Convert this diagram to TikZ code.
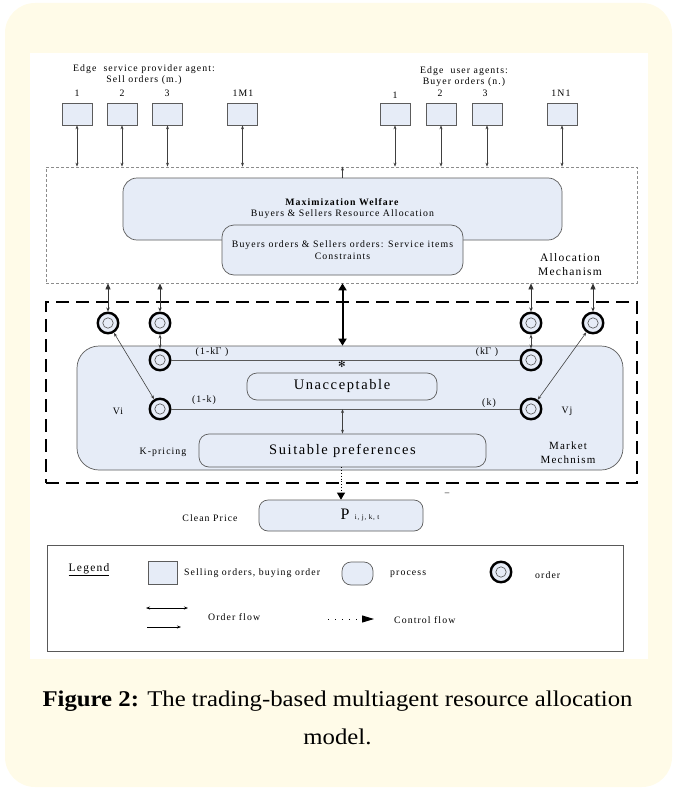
\documentclass[tikz,border=0pt]{standalone}
\usepackage{fontspec}
\setmainfont{Liberation Serif}
\newfontfamily\dfont[LetterSpace=11]{Liberation Serif}
\newfontfamily\symfont{DejaVu Sans}
\usetikzlibrary{arrows.meta}
\definecolor{cream}{HTML}{FFFBE8}
\definecolor{boxfill}{HTML}{E6ECF7}
\definecolor{boxline}{HTML}{5C5C5C}
\begin{document}
\begin{tikzpicture}[x=1pt,y=-1pt,
  dtext/.style={font=\dfont\fontsize{9.8}{11}\selectfont, inner sep=0pt, align=center},
  sq/.style={draw=boxline, fill=boxfill, minimum width=30pt, minimum height=22pt, inner sep=0pt, line width=0.7pt},
  proc/.style={draw=boxline, fill=boxfill, inner sep=0pt, line width=0.7pt, align=center},
  ord/.style={circle, draw=black, line width=2.4pt, fill=boxfill, minimum size=20.5pt, inner sep=0pt,
     path picture={\draw[line width=0.6pt, draw=black!70] (path picture bounding box.center) circle (5.2pt);}},
  oflow/.style={draw=black!75, line width=0.6pt, {Stealth[length=4pt,width=3pt]}-{Stealth[length=4pt,width=3pt]}},
  oarrow/.style={draw=black!75, line width=0.6pt, -{Stealth[length=4pt,width=3pt]}},
  bflow/.style={draw=black!80, line width=0.7pt, {Triangle[length=6pt,width=5pt]}-{Stealth[length=4pt,width=3.5pt]}},
  thickflow/.style={draw=black, line width=2pt, {Triangle[length=7pt,width=8pt]}-{Triangle[length=7pt,width=8pt]}},
  plainline/.style={draw=black!65, line width=0.7pt},
  ctrl/.style={draw=black, line width=0.8pt, dotted, -{Triangle[length=7pt,width=8pt]}},
]
\useasboundingbox (0,0) rectangle (675,789);
% card
\fill[cream, rounded corners=30pt] (5,3) rectangle (672,787);
\fill[white] (30,53) rectangle (648,659);

% header labels
\node[dtext] (sellhead) at (144,75) {Edge \ service provider agent:\\Sell orders (m.)};
\node[dtext] (buyhead) at (464,77) {Edge \ user agents:\\Buyer orders (n.)};
\node[dtext] (ls1) at (77,93) {1};
\node[dtext] (ls2) at (122,93) {2};
\node[dtext] (ls3) at (167,93) {3};
\node[dtext] (ls4) at (243,93) {1M1};
\node[dtext] (lb1) at (395,95) {1};
\node[dtext] (lb2) at (440,93) {2};
\node[dtext] (lb3) at (485,93) {3};
\node[dtext] (lb4) at (561,93) {1N1};

% order boxes
\node[sq] (s1) at (77,114) {};
\node[sq] (s2) at (122,114) {};
\node[sq] (s3) at (167.5,114) {};
\node[sq] (s4) at (242.5,114) {};
\node[sq] (b1) at (395,114) {};
\node[sq] (b2) at (441,114) {};
\node[sq] (b3) at (487,114) {};
\node[sq] (b4) at (562,114) {};

% allocation mechanism
\node[draw=black!45, line width=0.7pt, dash pattern=on 3pt off 2pt, minimum width=591pt, minimum height=116pt, inner sep=0pt] (alloc) at (341.5,225) {};
\foreach \n in {s1,s2,s3,s4,b1,b2,b3,b4}
  \draw[oflow] (\n.south) -- (\n.south |- alloc.north);

\node[proc, rounded corners=14pt, minimum width=439pt, minimum height=62pt] (mw) at (342.5,209) {};
\node[dtext] (mwt) at (342.5,208.5) {\textbf{Maximization Welfare}\\Buyers \& Sellers Resource Allocation};
\node[proc, rounded corners=12pt, minimum width=241pt, minimum height=50pt, font=\dfont\fontsize{9.8}{12}\selectfont] (cons) at (342.5,250) {Buyers orders \& Sellers orders: Service items\\Constraints};
\draw[oarrow] (mw.north) -- (mw.north |- alloc.north);
\node[font=\dfont\fontsize{11.5}{14}\selectfont, align=center, inner sep=0pt] (allocl) at (570,265) {Allocation\\Mechanism};

% market mechanism
\node[draw=black, line width=1.8pt, dash pattern=on 13pt off 7pt, minimum width=591pt, minimum height=181pt, inner sep=0pt] (market) at (341.5,392.5) {};
\node[proc, rounded corners=22pt, minimum width=546pt, minimum height=124pt] (mk) at (350,408) {};
\draw[thickflow] (cons.south |- alloc.south) -- (cons.south |- mk.north);

\node[ord] (o1) at (108,323) {};
\node[ord] (o2) at (160,323) {};
\node[ord] (o3) at (531,323) {};
\node[ord] (o4) at (593,323) {};
\node[ord] (o5) at (160,360) {};
\node[ord] (o6) at (531,360) {};
\node[ord] (vi) at (160,409) {};
\node[ord] (vj) at (531,409) {};

\foreach \n in {o1,o2,o3,o4}
  \draw[bflow] (\n.north |- alloc.south) -- (\n.north);
\draw[oflow] (o2) -- (o5);
\draw[oflow] (o3) -- (o6);
\draw[oflow] (o1) -- (vi);
\draw[oflow] (o4) -- (vj);
\draw[plainline] (o5) -- (o6);
\draw[plainline] (vi) -- (vj);

\node[dtext] (k1) at (212,352) {(1-k$\Gamma$ )};
\node[dtext] (k2) at (487,352) {(k$\Gamma$ )};
\node[font=\symfont\fontsize{9}{9}\selectfont, inner sep=0pt] (star) at (342,364) {✻};
\node[dtext] (k3) at (204,400) {(1-k)};
\node[dtext] (k4) at (489,403) {(k)};
\node[dtext] (vil) at (118,411) {Vi};
\node[dtext] (vjl) at (567,411) {Vj};
\node[dtext] (kp) at (163,452) {K-pricing};
\node[font=\dfont\fontsize{11}{14}\selectfont, align=center, inner sep=0pt] (mml) at (568,453) {Market\\Mechnism};

\node[proc, rounded corners=10pt, minimum width=190pt, minimum height=27pt, font=\dfont\fontsize{14.5}{16}\selectfont] (un) at (342,386.5) {Unacceptable};
\node[proc, rounded corners=10pt, minimum width=287pt, minimum height=33pt, font=\dfont\fontsize{14.5}{16}\selectfont] (suit) at (342.5,450.5) {Suitable preferences};
\draw[oflow] (suit.north) -- (suit.north |- vi.center);

% price
\node[proc, rounded corners=9pt, minimum width=164pt, minimum height=31pt] (p) at (341,515.5) {\hspace*{38pt}\fontsize{16}{16}\selectfont P\,\,{\dfont\fontsize{7}{7}\selectfont i, j, k, t}};
\draw[ctrl] (suit.south -| p.north) -- (p.north);
\node[font=\fontsize{9}{10}\selectfont, inner sep=0pt] (dash) at (447,494) {–};
\node[dtext] (cp) at (210,518) {Clean Price};

% legend
\node[draw=black!65, line width=0.8pt, minimum width=576pt, minimum height=106pt, inner sep=0pt] (leg) at (335,598) {};
\node[dtext, font=\dfont\fontsize{11.5}{12}\selectfont] (legt) at (89,570) {\underline{Legend}};
\node[sq, minimum width=29pt, minimum height=23pt] (lsq) at (162.5,572.5) {};
\node[dtext, anchor=west] (lsqt) at (184,573) {Selling orders, buying order};
\node[proc, rounded corners=9pt, minimum width=31pt, minimum height=23pt] (lproc) at (357.5,573.5) {};
\node[dtext, anchor=west] (lproct) at (390,574) {process};
\node[ord] (lord) at (501,572) {};
\node[dtext, anchor=west] (lordt) at (535,575) {order};
\coordinate (la1) at (146,608);
\coordinate (la2) at (188,608);
\coordinate (la3) at (147,627);
\coordinate (la4) at (181,627);
\draw[oflow, draw=black] (la1) -- (la2);
\draw[oarrow, draw=black] (la3) -- (la4);
\node[dtext, anchor=west] (oft) at (208,617) {Order flow};
\coordinate (lc1) at (328,619);
\coordinate (lc2) at (374,619);
\draw[draw=black, line width=1pt, dash pattern=on 1pt off 6pt, -{Triangle[length=12pt,width=7pt]}] (lc1) -- (lc2);
\node[dtext, anchor=west] (cft) at (394,620) {Control flow};

% caption
\node[font=\fontsize{22.5}{26}\selectfont, inner sep=0pt, xscale=1.1] (cap1) at (337.5,701) {\textbf{Figure 2:} The trading-based multiagent resource allocation};
\node[font=\fontsize{22.5}{26}\selectfont, inner sep=0pt, xscale=1.1] (cap2) at (337.5,737) {model.};
\end{tikzpicture}
\end{document}
